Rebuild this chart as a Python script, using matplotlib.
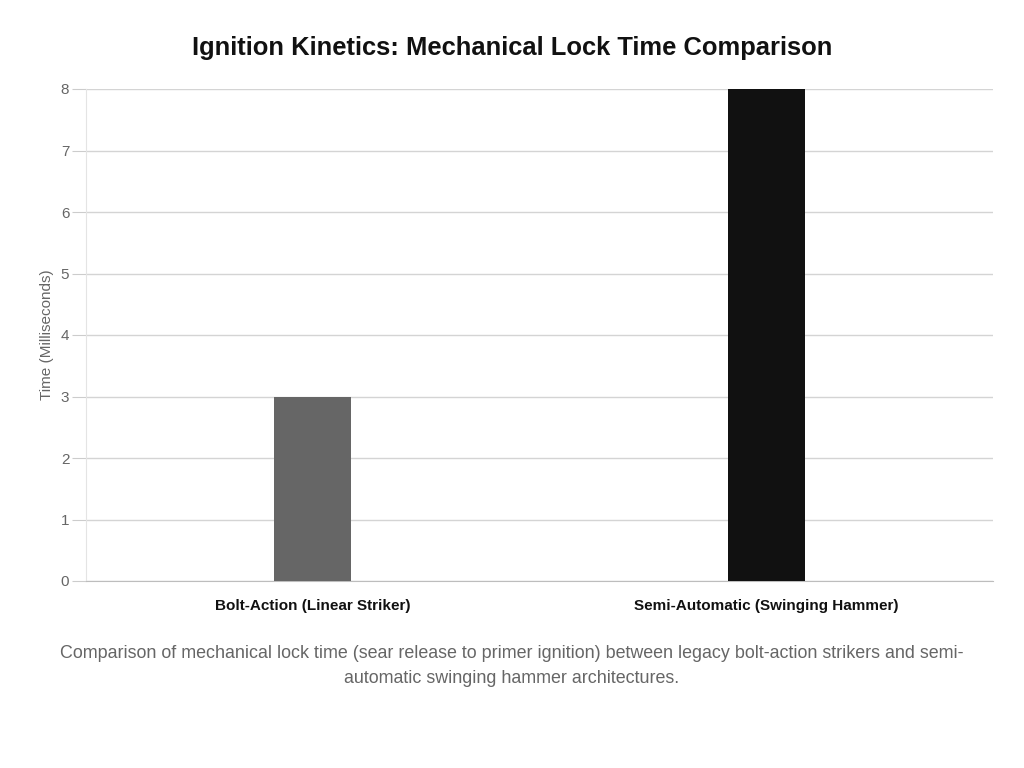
import numpy as np
import matplotlib.pyplot as plt

plt.rcParams['font.family'] = ['Liberation Sans', 'DejaVu Sans']

categories = ['Bolt-Action (Linear Striker)', 'Semi-Automatic (Swinging Hammer)']
lock_time_ms = [3, 8]
bar_colors = ['#666666', '#111111']
y_ticks = [0, 1, 2, 3, 4, 5, 6, 7, 8]

fig = plt.figure(figsize=(10.24, 7.68), dpi=100)
ax = fig.add_axes([86/1024, 1-581/768, (993-86)/1024, (581-89)/768])

x = np.arange(len(categories))
ax.bar(x, lock_time_ms, width=0.17, color=bar_colors, zorder=3)

ax.set_xlim(-0.5, 1.5)
ax.set_ylim(0, 8)
ax.set_yticks(y_ticks)
ax.set_xticks(x)
ax.set_xticklabels(categories, fontweight='bold', fontsize=11, color='#111111')
ax.tick_params(axis='x', length=0, pad=13)
ax.tick_params(axis='y', length=10, color='#cccccc', labelcolor='#666666', labelsize=11, pad=2)

ax.grid(axis='y', color='#d4d4d4', linewidth=1, zorder=0)
for s in ['top', 'right']:
    ax.spines[s].set_visible(False)
ax.spines['left'].set_color('#e4e4e4')
ax.spines['bottom'].set_color('#bdbdbd')

ax.set_ylabel('Time (Milliseconds)', color='#666666', fontsize=11, labelpad=5)

fig.text(0.5, 1-48/768, 'Ignition Kinetics: Mechanical Lock Time Comparison',
         ha='center', va='center', fontsize=18.4, fontweight='bold', color='#111111')
fig.text(0.5, 1-666/768,
         'Comparison of mechanical lock time (sear release to primer ignition) between legacy bolt-action strikers and semi-\nautomatic swinging hammer architectures.',
         ha='center', va='center', fontsize=12.9, color='#666666', linespacing=1.6)

fig.savefig('out.png', dpi=100)
